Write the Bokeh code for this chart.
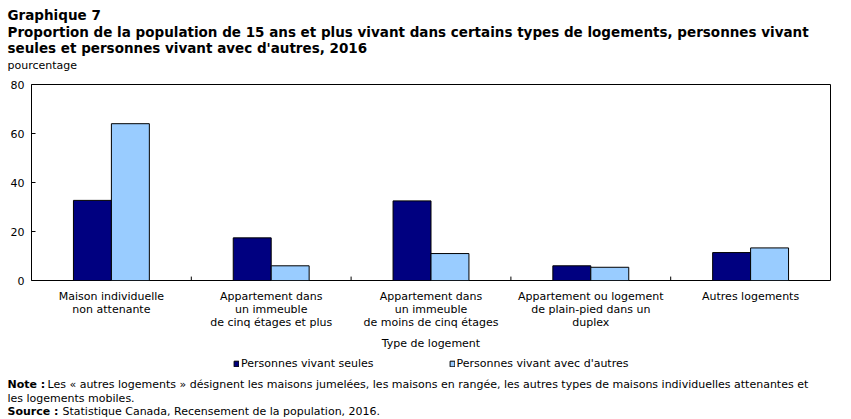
from bokeh.plotting import figure
from bokeh.layouts import column
from bokeh.models import (ColumnDataSource, FactorRange, Label, Legend, LegendItem,
                          Range1d, FixedTicker, Plot)
from bokeh.transform import dodge
from bokeh.embed import file_html
from bokeh.resources import INLINE

# Data
categories = [
    "Maison individuelle\nnon attenante",
    "Appartement dans\nun immeuble\nde cinq étages et plus",
    "Appartement dans\nun immeuble\nde moins de cinq étages",
    "Appartement ou logement\nde plain-pied dans un\nduplex",
    "Autres logements",
]
seules = [32.7, 17.4, 32.5, 6.0, 11.4]
avec_autres = [64.0, 6.0, 11.0, 5.4, 13.3]
series_names = ["Personnes vivant seules", "Personnes vivant avec d'autres"]
y_ticks = [0, 20, 40, 60, 80]

FONT = "DejaVu Sans"
W = 851
HEAD_H, MAIN_H, FOOT_H = 80, 272, 67
COLORS = ["#000080", "#99CCFF"]
HAS_FRAME_ALIGN = "frame_align" in Plot.properties()

src = ColumnDataSource(dict(cat=categories, seules=seules, avec=avec_autres))


def unalign(f):
    # keep each panel's own frame instead of lining it up with its neighbours
    if HAS_FRAME_ALIGN:
        f.frame_align = False


def text_panel(height):
    f = figure(width=W, height=height, x_range=Range1d(0, W), y_range=Range1d(0, height),
               output_backend="svg", toolbar_location=None,
               x_axis_location=None, y_axis_location=None,
               min_border=0, outline_line_color=None)
    f.xgrid.visible = False
    f.ygrid.visible = False
    unalign(f)
    return f


def txt(f, x, y_top, s, size="11px", bold=False):
    # y_top is measured downward from the top of the panel
    f.add_layout(Label(x=x, y=f.height - y_top, x_units="screen", y_units="screen",
                       text=s, text_font=FONT, text_font_size=size,
                       text_baseline="middle", text_color="black",
                       text_font_style="bold" if bold else "normal"))


# Heading
head = text_panel(HEAD_H)
txt(head, 7, 14, "Graphique  7", "13.5px", True)
txt(head, 7, 31, "Proportion de la population de 15 ans et plus vivant dans certains types de logements, personnes vivant", "13.5px", True)
txt(head, 7, 47, "seules et personnes vivant avec d'autres, 2016", "13.5px", True)
txt(head, 7, 65, "pourcentage", "11px")

# Main chart
p = figure(width=W, height=MAIN_H, x_range=FactorRange(*categories, range_padding=0),
           y_range=Range1d(0, 80), output_backend="svg", toolbar_location=None,
           min_border_left=31, min_border_right=21, min_border_top=4,
           min_border_bottom=MAIN_H - 4 - 196)
unalign(p)

bw = 0.2375
p.vbar(x=dodge("cat", -bw / 2, range=p.x_range), top="seules", width=bw,
       source=src, fill_color=COLORS[0], line_color="black", line_width=1)
p.vbar(x=dodge("cat", bw / 2, range=p.x_range), top="avec", width=bw,
       source=src, fill_color=COLORS[1], line_color="black", line_width=1)

# Short ticks between the categories on the baseline
bsrc = ColumnDataSource(dict(cat=categories[:-1], y0=[0] * 4, y1=[1.6] * 4))
p.segment(x0=dodge("cat", 0.5, range=p.x_range), x1=dodge("cat", 0.5, range=p.x_range),
          y0="y0", y1="y1", source=bsrc, line_color="black", line_width=1)

p.outline_line_color = "black"
p.outline_line_width = 1
p.xgrid.grid_line_color = None
p.ygrid.grid_line_color = None

p.yaxis.ticker = FixedTicker(ticks=y_ticks)
p.yaxis.axis_line_color = None
p.yaxis.major_tick_line_color = "black"
p.yaxis.minor_tick_line_color = None
p.yaxis.major_tick_out = 0
p.yaxis.major_tick_in = 4
p.yaxis.minor_tick_out = 0
p.yaxis.major_label_standoff = 7
p.yaxis.major_label_text_font = FONT
p.yaxis.major_label_text_font_size = "11px"
p.yaxis.major_label_text_color = "black"

p.xaxis.axis_line_color = None
p.xaxis.major_tick_line_color = None
p.xaxis.major_tick_out = 0
p.xaxis.major_label_text_font = FONT
p.xaxis.major_label_text_font_size = "11px"
p.xaxis.major_label_text_color = "black"
p.xaxis.major_label_text_line_height = 1.0
p.xaxis.major_label_standoff = 9
p.xaxis.axis_label = "Type de logement"
p.xaxis.axis_label_text_font = FONT
p.xaxis.axis_label_text_font_size = "11px"
p.xaxis.axis_label_text_font_style = "normal"
p.xaxis.axis_label_text_color = "black"
p.xaxis.axis_label_standoff = 5

# Footer: legend and notes
foot = figure(width=W, height=FOOT_H, x_range=FactorRange(*categories),
              y_range=Range1d(500, 600), output_backend="svg", toolbar_location=None,
              x_axis_location=None, y_axis_location=None,
              min_border=0, outline_line_color=None)
foot.xgrid.visible = False
foot.ygrid.visible = False
unalign(foot)
# legend swatches reuse the bar styles; the bars themselves sit outside this panel's view
k1 = foot.vbar(x="cat", top="seules", width=0.001, source=src,
               fill_color=COLORS[0], line_color="black", line_width=1)
k2 = foot.vbar(x="cat", top="avec", width=0.001, source=src,
               fill_color=COLORS[1], line_color="black", line_width=1)
legend = Legend(items=[LegendItem(label=series_names[0], renderers=[k1]),
                       LegendItem(label=series_names[1], renderers=[k2])],
                orientation="horizontal", location=(233, 49),
                label_text_font=FONT, label_text_font_size="11px",
                label_text_color="black",
                glyph_width=6, glyph_height=7, spacing=75, label_standoff=2,
                padding=0, margin=0, border_line_color=None,
                background_fill_alpha=0)
foot.add_layout(legend, "center")

txt(foot, 7, 32, "Note :", "11px", True)
txt(foot, 47, 32, "Les « autres logements » désignent les maisons jumelées, les maisons en rangée, les autres types de maisons individuelles attenantes et", "11px")
txt(foot, 7, 46, "les logements mobiles.", "11px")
txt(foot, 7, 59, "Source :", "11px", True)
txt(foot, 62, 59, "Statistique Canada, Recensement de la population, 2016.", "11px")

layout = column(head, p, foot, spacing=0)
open("out.html", "w").write(file_html(layout, INLINE))
